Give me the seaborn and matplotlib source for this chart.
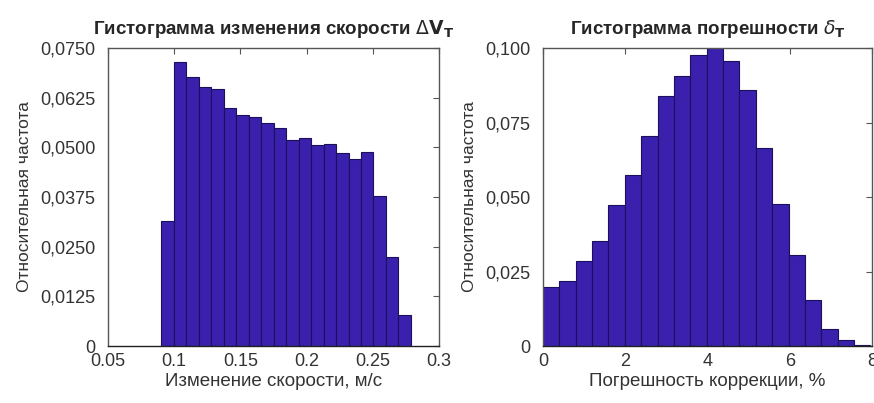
import numpy as np
import pandas as pd
import matplotlib
matplotlib.use('Agg')
import matplotlib.pyplot as plt
from matplotlib.ticker import FuncFormatter
import seaborn as sns

# bin heights (relative frequency)
speed_start = 0.0902
speed_width = 0.00943
speed_freq = [0.0315, 0.0716, 0.0676, 0.0651, 0.0647, 0.0598, 0.0581, 0.0577, 0.0560, 0.0548,
              0.0518, 0.0523, 0.0506, 0.0508, 0.0485, 0.0471, 0.0489, 0.0378, 0.0223, 0.0078]

err_start = 0.0
err_width = 0.398
err_freq = [0.0198, 0.0218, 0.0285, 0.0352, 0.0472, 0.0575, 0.0704, 0.0840, 0.0907, 0.0975,
            0.1008, 0.0955, 0.0858, 0.0664, 0.0475, 0.0304, 0.0155, 0.0056, 0.0019, 0.0003]

speed_xticks = [0.05, 0.1, 0.15, 0.2, 0.25, 0.3]
speed_xlabels = ['0.05', '0.1', '0.15', '0.2', '0.25', '0.3']
speed_yticks = [0, 0.0125, 0.025, 0.0375, 0.05, 0.0625, 0.075]
err_xticks = [0, 2, 4, 6, 8]
err_yticks = [0, 0.025, 0.05, 0.075, 0.1]

BAR = '#3a20ad'
EDGE = '#1c0f5c'

sns.set_style('white')
plt.rcParams['font.family'] = ['Liberation Sans', 'DejaVu Sans']
plt.rcParams['mathtext.fontset'] = 'dejavusans'


def comma_fmt(decimals):
    def f(v, pos):
        if abs(v) < 1e-12:
            return '0'
        return f'{v:.{decimals}f}'.replace('.', ',')
    return FuncFormatter(f)


def draw_hist(ax, start, width, freq):
    edges = [start + width * i for i in range(len(freq) + 1)]
    df = pd.DataFrame({'x': [(edges[i] + edges[i + 1]) / 2 for i in range(len(freq))],
                       'w': freq})
    sns.histplot(data=df, x='x', weights='w', bins=edges, ax=ax, stat='count',
                 color=BAR, alpha=1, edgecolor=EDGE, linewidth=0.8)


def style_axes(ax):
    ax.tick_params(direction='in', length=4, top=True, right=True,
                   labelsize=13, labelcolor='#333333', color='#555555')
    ax.tick_params(axis='y', pad=9)
    ax.tick_params(axis='x', pad=5)
    for s in ax.spines.values():
        s.set_color('#555555')
        s.set_linewidth(1.0)
    ax.spines['bottom'].set_color('#222222')


fig = plt.figure(figsize=(8.74, 4.03), dpi=100)
ax1 = fig.add_axes([0.1236, 0.1414, 0.3787, 0.7395])
ax2 = fig.add_axes([0.6213, 0.1414, 0.3764, 0.7395])

draw_hist(ax1, speed_start, speed_width, speed_freq)
ax1.set_xlim(0.05, 0.3)
ax1.set_ylim(0, 0.075)
ax1.set_xticks(speed_xticks)
ax1.set_xticklabels(speed_xlabels)
ax1.set_yticks(speed_yticks)
ax1.yaxis.set_major_formatter(comma_fmt(4))
ax1.set_xlabel('Изменение скорости, м/с', fontsize=13.5, color='#333333', labelpad=2)
ax1.set_ylabel('Относительная частота', fontsize=12.5, color='#333333', labelpad=6)
ax1.set_title(r'Гистограмма изменения скорости $\Delta\mathbf{V}_\mathbf{T}$',
              fontsize=13.5, fontweight='bold', pad=10)
style_axes(ax1)

draw_hist(ax2, err_start, err_width, err_freq)
ax2.set_xlim(0, 8)
ax2.set_ylim(0, 0.1)
ax2.set_xticks(err_xticks)
ax2.set_yticks(err_yticks)
ax2.yaxis.set_major_formatter(comma_fmt(3))
ax2.set_xlabel('Погрешность коррекции, %', fontsize=13.5, color='#333333', labelpad=2)
ax2.set_ylabel('Относительная частота', fontsize=12.5, color='#333333', labelpad=6)
ax2.set_title(r'Гистограмма погрешности $\delta_\mathbf{T}$',
              fontsize=13.5, fontweight='bold', pad=10)
style_axes(ax2)

fig.savefig('out.png', dpi=100)
